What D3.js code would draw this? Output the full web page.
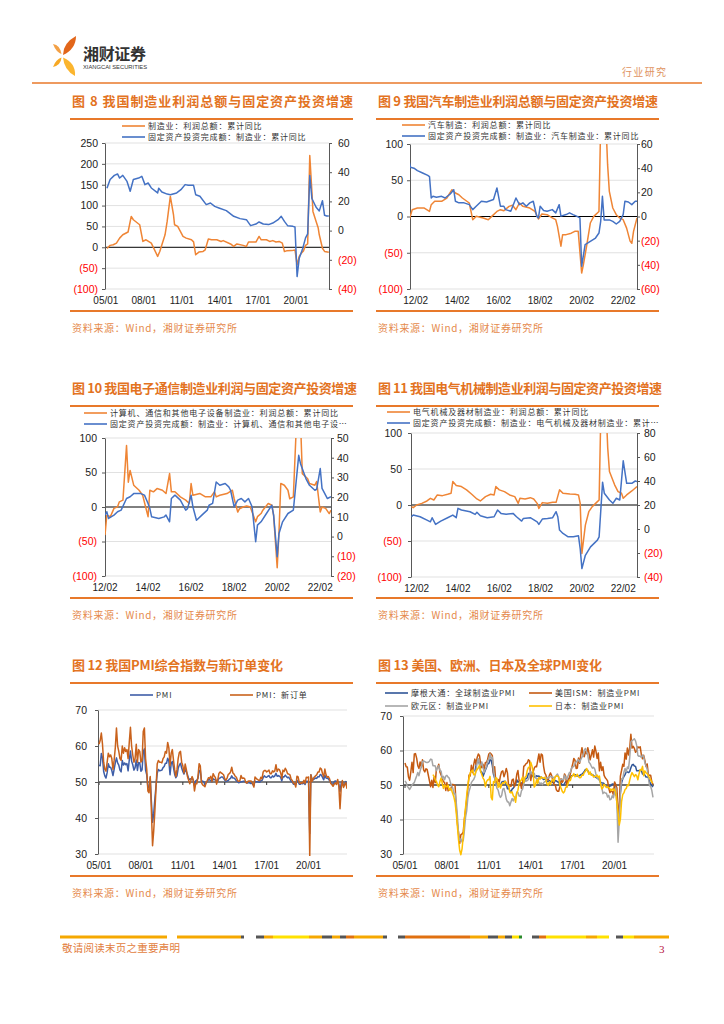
<!DOCTYPE html>
<html>
<head>
<meta charset="utf-8">
<script src="https://cdn.jsdelivr.net/npm/d3@7"></script>
<style>
  body { margin: 0; background: #fff; }
  svg { display: block; }
</style>
</head>
<body>
<script>
// ---------- data ----------

// fig 8: manufacturing profit (left) / manufacturing FAI (right), cumulative yoy %
const profitMfg = [["2005-02",-2.8],["2005-05",4.6],["2005-08",6],["2005-11",10],["2006-02",22],["2006-05",30],["2006-10",36.6],["2007-01",74],["2007-03",66],["2007-09",54],["2007-12",14],["2008-03",18],["2008-08",10],["2009-02",-21.8],["2009-04",-10],["2009-09",30],["2009-11",62],["2010-02",122],["2010-05",78],["2010-06",54],["2010-09",50],["2011-02",26],["2011-05",22],["2011-10",18],["2011-12",13],["2012-02",-18],["2012-05",-11.5],["2012-09",-10],["2012-11",-6],["2013-02",20],["2013-05",18],["2013-10",18],["2014-02",14],["2014-04",16],["2014-11",8],["2015-02",2],["2015-05",8],["2015-11",4.6],["2016-02",2],["2016-04",12.6],["2016-11",12.6],["2017-02",26],["2017-04",18],["2017-09",18],["2017-12",14],["2018-03",16],["2018-06",12.6],["2018-09",14],["2018-12",10],["2019-02",-10],["2019-04",-8.6],["2019-09",-8],["2019-12",-6.4],["2020-02",-42],["2020-04",-22],["2020-06",-14],["2020-08",-8.6],["2020-10",4.6],["2020-12",8],["2021-02",220],["2021-04",134],["2021-05",86],["2021-08",62],["2021-10",46],["2021-11",30],["2022-02",-2.4],["2022-04",-10],["2022-08",-12]];
const faiMfg = [["2005-02",29],["2005-05",35],["2005-09",37.8],["2005-12",38.8],["2006-02",36],["2006-05",37.8],["2006-09",33.7],["2006-12",27],["2007-03",35],["2007-08",36],["2007-11",37.2],["2008-02",31.5],["2008-05",32.6],["2008-08",29.2],["2009-02",25.8],["2009-03",29],["2009-06",26.4],["2009-11",25],["2010-02",24.6],["2010-08",25.8],["2010-12",28],["2011-04",31.5],["2011-07",31],["2011-12",31],["2012-02",24.6],["2012-06",23.5],["2012-12",17.8],["2013-04",18.9],["2013-08",16.6],["2013-12",15.5],["2014-07",13.7],["2015-02",9.8],["2015-08",8.2],["2016-02",7.5],["2016-06",3.4],["2016-11",4.5],["2017-02",5.9],["2017-06",4.5],["2017-11",4.1],["2018-03",5.2],["2018-08",7.5],["2018-11",9.8],["2019-02",6.3],["2019-05",3.4],["2019-10",2.9],["2019-12",2.5],["2020-02",-31.5],["2020-04",-19],["2020-07",-13],["2020-10",-5],["2020-12",-2.2],["2021-02",37.8],["2021-04",22],["2021-08",16],["2021-11",13.5],["2022-02",20.5],["2022-04",10.5],["2022-06",10],["2022-08",10]];

// fig 9: auto manufacturing
const profitAuto = [["2011-10",-6.7],["2011-12",9.4],["2012-03",11.7],["2012-07",11.7],["2012-10",7.1],["2012-11",16.3],["2013-01",21],["2013-05",21],["2013-08",25.5],["2013-11",37],["2014-01",32.4],["2014-03",30],["2014-05",25.5],["2014-09",18.6],["2014-11",-4.4],["2015-01",0.2],["2015-05",-2],["2015-08",-4.4],["2015-10",0.2],["2016-01",7],["2016-03",9.4],["2016-05",8],["2016-08",14],["2016-10",15.4],["2016-12",9.4],["2017-02",18.6],["2017-04",14],["2017-08",11.7],["2017-11",7],["2018-01",-3.4],["2018-03",3.5],["2018-06",2.5],["2018-09",-2],["2018-11",-4.4],["2018-12",-13.6],["2019-02",-41],["2019-03",-25],["2019-05",-25],["2019-08",-23],["2019-10",-20.5],["2019-12",-20.5],["2020-02",-78],["2020-03",-66.4],["2020-05",-38.9],["2020-07",-9],["2020-09",0.2],["2020-12",7],["2021-02",250],["2021-05",71.5],["2021-06",34.7],["2021-08",11.7],["2021-10",2.5],["2021-12",-2],["2022-02",-4.4],["2022-04",-16],["2022-06",-34],["2022-07",-37],["2022-08",-20.5],["2022-10",-2]];
const faiAuto = [["2011-10",47],["2011-11",40.7],["2012-01",40],["2012-03",38],["2012-06",36],["2012-09",34],["2012-10",33],["2012-11",15.3],["2012-12",16.7],["2013-02",16],["2013-05",16.7],["2013-07",15.3],["2013-10",18.6],["2013-12",22.2],["2014-01",12.6],["2014-03",11.3],["2014-06",11.3],["2014-09",9.8],["2014-11",5.7],["2015-01",8.5],["2015-04",12.6],["2015-07",12],["2015-11",14],["2016-01",23.6],["2016-03",8.5],["2016-05",8.5],["2016-06",5.7],["2016-09",4.4],["2016-12",15.3],["2017-02",9.8],["2017-04",11.3],["2017-06",8.5],["2017-08",11.3],["2017-10",12.6],["2017-12",0.3],["2018-01",-1.2],["2018-02",8.5],["2018-04",5],["2018-06",4.4],["2018-09",5.7],["2018-11",3],["2019-01",9.8],["2019-02",0.3],["2019-05",1.6],["2019-07",3],["2019-09",1.6],["2019-11",0.3],["2020-01",-1.2],["2020-02",-41.2],["2020-04",-23.3],["2020-07",-20.6],["2020-10",-17.8],["2020-12",-13.7],["2021-01",-4],["2021-02",16.7],["2021-03",-2.8],["2021-06",-2.8],["2021-08",-4],["2021-10",-6.2],["2021-12",-4],["2022-02",1.6],["2022-03",12.6],["2022-05",12],["2022-07",9.8],["2022-09",12.6],["2022-10",12.6]];

// fig 10: computer, communication & electronics
const profitElec = [["2012-02",-40.7],["2012-03",-12],["2012-05",-14],["2012-07",-2],["2012-09",0.2],["2012-10",7.5],["2012-12",10],["2013-02",89],["2013-03",36],["2013-04",53],["2013-06",31.6],["2013-09",24.3],["2013-11",17],["2014-02",-14],["2014-03",24.3],["2014-05",22],["2014-07",26.7],["2014-10",24.3],["2014-12",19.5],["2015-02",48.4],["2015-03",22],["2015-05",22],["2015-08",14.7],["2015-11",10],["2016-01",5],["2016-02",34],["2016-03",17],["2016-07",19.5],["2016-10",14.7],["2017-01",14.7],["2017-03",22],["2017-04",14.7],["2017-06",17],["2017-10",19.5],["2018-01",24.3],["2018-02",12],["2018-04",-7.3],["2018-05",-2.5],["2018-07",0],["2018-09",1.5],["2018-11",0],["2019-02",-21.5],["2019-03",-14],["2019-05",-9.5],["2019-06",-4.6],["2019-09",5],["2019-11",2.5],["2019-12",-12],["2020-02",-88],["2020-03",-36],["2020-04",34],["2020-06",31.6],["2020-08",24.3],["2020-09",12],["2020-11",14.7],["2021-02",200],["2021-04",48.4],["2021-07",41],["2021-08",34],["2021-11",31.6],["2021-12",37],["2022-02",-7.3],["2022-03",0],["2022-05",-2],["2022-07",-9.5],["2022-08",-4.6]];
const faiElec = [["2012-02",10.9],["2012-03",12.6],["2012-04",9.2],["2012-07",10.9],["2012-09",12.6],["2012-11",13.4],["2013-02",19.3],["2013-04",20.2],["2013-06",21.8],["2013-10",21.8],["2013-12",21],["2014-02",16.8],["2014-03",14.2],["2014-04",10],["2014-08",9.2],["2014-11",10],["2014-12",10.9],["2015-02",7.5],["2015-03",19.3],["2015-05",21],["2015-08",18.5],["2015-11",13.4],["2015-12",14.2],["2016-02",21],["2016-03",15.1],["2016-05",8.3],["2016-08",10.9],["2016-11",13.4],["2016-12",15.9],["2017-02",16.8],["2017-04",27.7],["2017-06",26],["2017-09",26.9],["2017-11",25.2],["2017-12",23.5],["2018-02",15.1],["2018-04",18.5],["2018-06",19.3],["2018-08",17.6],["2018-10",19.3],["2018-12",15.1],["2019-02",-2.6],["2019-03",5.8],["2019-05",7.5],["2019-08",11.7],["2019-11",15.9],["2019-12",10.9],["2020-02",-10.2],["2020-03",1.6],["2020-05",7.5],["2020-08",11.7],["2020-11",13.4],["2021-02",41.2],["2021-03",37],["2021-06",29.4],["2021-08",26],["2021-11",23.5],["2021-12",24],["2022-02",34.5],["2022-03",24.4],["2022-06",19.3],["2022-08",20.2]];

// fig 11: electrical machinery
const profitElecMach = [["2011-11",-2.3],["2011-12",-3.7],["2012-02",0],["2012-05",2.3],["2012-08",5.6],["2012-10",9.3],["2012-12",7],["2013-02",14],["2013-05",13],["2013-08",14.9],["2013-10",16.3],["2013-11",32.6],["2014-01",27],["2014-04",25.6],["2014-07",21],["2014-10",14.9],["2015-01",8.4],["2015-03",5.6],["2015-06",11.6],["2015-09",14.9],["2015-11",14],["2015-12",25.6],["2016-02",21],["2016-05",18.6],["2016-08",14],["2016-11",11.6],["2017-01",2.3],["2017-02",9.3],["2017-05",8.4],["2017-08",10.2],["2017-10",8.4],["2017-12",2.3],["2018-01",-4.7],["2018-03",3.3],["2018-06",2.3],["2018-09",3.7],["2018-11",3.7],["2019-01",21],["2019-03",16.3],["2019-07",15.3],["2019-10",14.9],["2019-12",14],["2020-01",2.3],["2020-02",-67.4],["2020-04",-28],["2020-06",-9.3],["2020-08",-2.3],["2020-11",4.7],["2020-12",7],["2021-02",250],["2021-05",79],["2021-06",46.5],["2021-09",28],["2021-11",18.6],["2022-01",16.3],["2022-02",9.3],["2022-04",14],["2022-07",19.5],["2022-10",25.6]];
const faiElecMach = [["2011-11",10.2],["2011-12",11.6],["2012-04",10.2],["2012-08",7.4],["2012-10",6],["2012-11",9.4],["2013-01",3.8],["2013-04",6.6],["2013-08",9.4],["2013-11",11.6],["2014-01",9.4],["2014-02",17.2],["2014-04",15.8],["2014-09",14.4],["2014-12",12.2],["2015-01",13.9],["2015-03",11],["2015-07",9.4],["2015-11",10.2],["2016-01",15.8],["2016-03",13],["2016-06",12.2],["2016-10",13],["2016-12",10.2],["2017-03",6.6],["2017-04",8.8],["2017-08",9.4],["2017-12",6],["2018-01",3.8],["2018-03",8.3],["2018-06",8.8],["2018-09",9.4],["2018-11",14.4],["2018-12",10.2],["2019-01",-0.9],["2019-03",-3.7],["2019-06",-6.5],["2019-09",-6.5],["2019-12",-5.7],["2020-01",-16.3],["2020-02",-33],["2020-04",-21.9],["2020-07",-14.9],["2020-11",-9.3],["2020-12",-6.5],["2021-02",39],["2021-03",29.8],["2021-06",24.2],["2021-08",21.4],["2021-10",25.6],["2021-12",24.2],["2022-02",56.8],["2022-04",38.1],["2022-07",38.1],["2022-09",40],["2022-10",39.5]];

// fig 12: China PMI and new orders, monthly from 2005-01
const pmiChina = [
  54.7,54.5,57.9,56.7,52.9,51.7,51.1,52.6,55.1,54.1,54.1,53.2,
  51.8,53.5,55.3,56.7,55.3,54.7,53.3,52.8,56.0,54.7,55.3,54.8,
  55.1,53.1,56.1,58.6,55.8,54.8,53.3,54.0,56.1,53.2,55.4,55.3,
  53.0,53.4,58.4,59.2,53.3,52.0,48.4,48.4,51.2,44.6,38.8,41.2,
  45.3,49.0,52.4,53.5,53.1,53.2,53.3,54.0,54.3,55.2,55.2,56.6,
  55.8,52.0,55.1,55.7,53.9,52.1,51.2,51.7,53.8,54.7,55.2,53.9,
  52.9,52.2,53.4,52.9,52.0,50.9,50.7,50.9,51.2,50.4,49.0,50.3,
  50.5,51.0,53.1,53.3,50.4,50.2,50.1,49.2,49.8,50.2,50.6,50.6,
  50.4,50.1,50.9,50.6,50.8,50.1,50.3,51.0,51.1,51.4,51.4,51.0,
  50.5,50.2,50.3,50.4,50.8,51.0,51.7,51.1,51.1,50.8,50.3,50.1,
  49.8,49.9,50.1,50.1,50.2,50.2,50.0,49.7,49.8,49.8,49.6,49.7,
  49.4,49.0,50.2,50.1,50.1,50.0,49.9,50.4,50.4,51.2,51.7,51.4,
  51.3,51.6,51.8,51.2,51.2,51.7,51.4,51.7,52.4,51.6,51.8,51.6,
  51.3,50.3,51.5,51.4,51.9,51.5,51.2,51.3,50.8,50.2,50.0,49.4,
  49.5,49.2,50.5,50.1,49.4,49.4,49.7,49.5,49.8,49.3,50.2,50.2,
  50.0,35.7,52.0,50.8,50.6,50.9,51.1,51.0,51.5,51.4,52.1,51.9,
  51.3,50.6,51.9,51.1,51.0,50.9,50.4,50.1,49.6,49.2,50.1,50.3,
  50.1,50.2,49.5,47.4,49.6,50.2,49.0,49.4,50.1,49.2];
const pmiNewOrders = [
  60.5,61.5,63.6,60.5,55.5,53.5,53.0,55.5,58.0,57.0,57.5,56.5,
  53.5,56.0,59.5,65.0,60.0,58.5,56.5,56.0,60.0,58.0,59.5,58.5,
  59.0,56.5,61.0,65.2,60.0,57.5,55.5,56.5,60.5,55.5,59.0,58.5,
  55.5,56.0,64.0,65.0,56.5,53.5,47.5,47.0,51.5,42.0,32.3,36.5,
  42.0,48.5,55.0,56.0,55.5,55.5,55.3,56.5,57.0,58.5,58.0,61.0,
  59.5,54.5,58.0,59.0,56.0,53.5,51.5,53.5,56.5,58.2,58.5,55.5,
  54.5,52.5,55.0,53.5,51.5,50.5,49.5,50.5,51.5,50.5,47.5,49.5,
  49.5,51.5,55.1,54.5,49.8,49.2,49.0,48.7,49.8,50.4,51.2,51.0,
  51.6,50.1,52.3,51.7,51.2,49.4,50.6,52.4,52.8,52.5,52.3,52.0,
  50.9,50.5,51.1,52.1,52.3,52.8,54.1,52.5,52.2,51.6,51.3,50.4,
  50.2,50.4,51.8,51.0,51.1,51.0,49.9,49.7,50.2,50.3,50.3,50.2,
  49.5,48.6,51.4,51.0,50.7,50.5,50.4,51.3,50.9,52.8,53.2,53.2,
  52.8,53.0,53.3,52.3,52.3,53.1,52.8,53.1,54.8,52.9,53.6,53.4,
  52.6,51.0,53.3,52.9,53.8,53.2,52.3,52.2,52.0,50.8,50.4,49.7,
  49.6,48.6,51.6,51.4,49.8,49.6,49.8,49.7,50.5,49.6,51.3,51.2,
  51.4,29.3,52.0,50.2,50.9,51.4,51.7,52.0,52.8,52.8,53.9,53.6,
  52.3,51.5,53.6,52.0,51.3,51.5,50.9,49.6,49.3,48.8,49.4,49.7,
  49.3,50.7,48.8,42.6,48.2,50.4,48.5,49.2,49.8,48.1];

// fig 13: manufacturing PMI, monthly
const ismPmi = [ // from 2005-01
  56.4,55.3,55.2,52.3,51.4,53.8,56.6,53.6,59.0,59.1,57.8,55.6,
  54.8,56.7,55.2,57.3,54.4,53.8,54.7,54.5,52.9,51.2,49.5,51.4,
  49.3,52.3,50.7,54.7,55.0,56.0,53.8,52.9,52.0,50.9,50.8,48.4,
  50.7,48.3,48.6,48.6,49.6,50.2,50.0,49.9,43.5,38.9,36.2,33.1,
  35.6,35.8,36.3,40.1,42.8,45.8,49.1,52.9,52.6,55.7,53.6,55.9,
  57.5,56.0,58.0,59.0,58.5,56.0,55.0,56.0,54.5,56.5,56.5,57.5,
  59.0,59.3,59.0,58.5,53.5,55.3,50.9,50.6,51.6,50.8,52.7,53.9,
  54.1,52.4,53.4,54.8,53.5,49.7,49.8,49.6,51.5,51.7,49.5,50.7,
  53.1,54.2,51.3,50.7,49.0,50.9,55.4,55.7,56.2,56.4,57.3,57.0,
  51.3,53.2,53.7,54.9,55.4,55.3,57.1,59.0,56.6,59.0,58.7,55.5,
  53.5,52.9,51.5,51.5,52.8,53.5,52.7,51.1,50.2,50.1,48.6,48.2,
  48.2,49.5,51.8,50.8,51.3,53.2,52.6,49.4,51.5,51.9,53.2,54.7,
  56.0,57.7,57.2,54.8,54.9,57.8,56.3,58.8,60.8,58.7,58.2,59.7,
  59.1,60.8,59.3,57.3,58.7,60.2,58.1,61.3,59.8,57.7,59.3,54.1,
  56.6,54.2,55.3,52.8,52.1,51.7,51.2,49.1,47.8,48.3,48.1,47.2,
  50.9,50.1,49.1,41.5,43.1,52.6,54.2,56.0,55.4,59.3,57.5,60.7,
  58.7,60.8,64.7,60.7,61.2,60.6,59.5,59.9,61.1,60.8,61.1,58.8,
  57.6,58.6,57.1,55.4,56.1,53.0,52.8,52.8,50.9,50.2];
const euroPmi = [ // from 2005-01
  51.2,50.7,49.6,49.2,48.7,49.3,50.0,50.4,50.7,51.7,52.6,53.6,
  52.7,54.1,55.2,56.7,57.0,56.8,56.6,56.5,56.6,56.9,57.5,57.4,
  55.6,55.6,55.5,54.1,55.0,55.6,54.2,54.0,51.9,52.5,51.5,52.6,
  52.8,52.3,52.0,50.7,49.8,49.2,47.4,47.6,45.0,41.1,35.6,33.9,
  34.4,33.5,33.9,36.8,40.7,42.6,46.3,48.2,49.3,50.7,51.2,51.6,
  52.4,54.2,56.6,57.6,55.8,55.6,56.7,55.1,53.7,54.6,55.3,57.1,
  57.3,59.0,57.5,58.0,54.6,52.0,50.4,49.0,48.5,47.1,46.4,46.9,
  48.8,49.0,47.7,45.9,45.1,45.1,44.0,45.1,46.1,45.4,46.2,46.1,
  47.9,47.9,46.8,46.7,48.3,48.8,50.3,51.4,51.1,51.3,51.6,52.7,
  54.0,53.2,53.0,53.4,52.2,51.8,51.8,50.7,50.3,50.6,50.1,50.6,
  51.0,51.0,52.2,52.0,52.2,52.5,52.4,52.3,52.0,52.3,52.8,53.2,
  52.3,51.2,51.6,51.7,51.5,52.8,52.0,51.7,52.6,53.5,53.7,54.9,
  55.2,55.4,56.2,56.7,57.0,57.4,56.6,57.4,58.1,58.5,60.1,60.6,
  59.6,58.6,56.6,56.2,55.5,54.9,55.1,54.6,53.2,52.0,51.8,51.4,
  50.5,49.3,47.5,47.9,47.7,47.6,46.5,47.0,45.7,45.9,46.9,46.3,
  47.9,49.2,44.5,33.4,39.4,47.4,51.8,51.7,53.7,54.8,53.8,55.2,
  54.8,57.9,62.5,62.9,63.1,63.4,62.8,61.4,58.6,58.3,58.4,58.0,
  58.7,58.2,56.5,55.5,54.6,52.1,49.8,49.6,48.4,46.4];
const japanPmi = [ // from 2007-01
  53.0,52.5,51.5,51.0,50.0,49.5,51.0,52.0,50.5,49.0,50.0,49.5,
  49.5,50.0,48.5,49.0,48.5,47.5,46.5,45.0,42.0,38.0,34.0,31.0,
  29.8,31.5,35.0,40.0,43.5,47.0,50.0,52.0,53.5,54.0,54.3,53.0,
  53.0,54.0,54.5,55.0,55.7,54.0,53.0,52.0,51.5,49.5,51.0,51.5,
  51.5,52.5,46.4,45.7,51.0,50.7,52.1,51.9,49.3,50.6,49.1,50.2,
  50.7,50.5,51.1,50.7,50.0,49.9,47.9,47.7,48.0,46.9,46.5,45.0,
  47.7,48.5,50.4,51.1,51.5,52.3,50.7,52.2,52.5,54.2,55.1,55.2,
  56.6,55.5,53.9,49.4,49.9,51.5,50.5,52.2,51.7,52.4,52.0,52.0,
  52.2,51.6,50.3,49.9,50.9,50.1,51.2,51.7,51.0,52.4,52.6,52.6,
  52.3,50.1,49.1,48.2,47.7,48.1,49.3,49.5,50.4,51.4,51.3,52.4,
  52.7,53.3,52.4,52.7,53.1,52.4,52.1,52.2,52.9,52.8,53.6,54.0,
  54.8,54.1,53.1,53.8,52.8,53.0,52.3,52.5,52.5,52.9,52.2,52.6,
  50.3,48.9,49.2,50.2,49.8,49.3,49.4,49.3,48.9,48.4,48.9,48.4,
  48.8,47.8,44.8,41.9,38.4,40.1,45.2,47.2,47.7,48.7,49.0,50.0,
  49.8,51.4,52.7,53.6,53.0,52.4,53.0,52.7,51.5,53.2,54.5,54.3,
  55.4,52.7,54.1,53.5,53.3,52.7,52.1,51.5,50.8,50.7];
const globalPmi = [ // from 2010-01
  53.9,55.6,57.1,57.0,56.1,53.8,53.8,52.5,53.4,54.3,55.1,56.1,
  56.2,57.4,57.2,55.6,53.1,52.0,50.6,49.9,49.9,49.8,49.7,50.8,
  51.0,51.0,51.1,50.2,48.9,49.1,48.4,48.1,48.8,49.1,49.7,50.2,
  51.5,50.8,51.1,50.3,50.6,50.6,50.8,51.7,51.8,52.1,53.3,53.3,
  52.9,53.2,52.4,52.4,52.2,52.7,52.5,52.6,52.2,52.3,51.9,51.6,
  51.7,51.9,51.0,51.0,51.3,51.0,51.0,50.7,50.6,51.3,51.2,50.9,
  50.9,50.0,50.5,50.1,50.0,50.4,51.0,50.8,51.0,52.0,52.1,52.7,
  52.7,52.9,53.0,52.7,52.6,52.6,52.7,53.0,53.1,53.5,53.9,54.5,
  54.4,54.2,53.3,53.5,53.1,53.0,52.7,52.5,52.2,52.0,51.8,51.5,
  50.8,50.6,50.6,50.4,49.8,49.4,49.3,49.5,49.7,49.8,50.3,50.1,
  50.4,47.1,47.6,39.6,42.4,47.8,50.6,51.8,52.4,53.0,53.8,53.8,
  53.6,53.9,55.0,55.8,56.0,55.5,55.4,54.1,54.1,54.2,54.2,54.2,
  53.2,53.6,52.9,52.3,52.3,52.2,51.1,50.3,49.8,49.4];

// axis ticks
const ticksY8L = [-100, -50, 0, 50, 100, 150, 200, 250];
const ticksY8R = [-40, -20, 0, 20, 40, 60];
const ticksY9L = [-100, -50, 0, 50, 100];
const ticksY9R = [-60, -40, -20, 0, 20, 40, 60];
const ticksY10R = [-20, -10, 0, 10, 20, 30, 40, 50];
const ticksY11R = [-40, -20, 0, 20, 40, 60, 80];
const ticksPmi = [30, 40, 50, 60, 70];
const xLabels05 = ["05/01", "08/01", "11/01", "14/01", "17/01", "20/01"];
const xLabels12 = ["12/02", "14/02", "16/02", "18/02", "20/02", "22/02"];

// ---------- helpers ----------
const ym = s => { const p = s.split('-').map(Number); return p[0] + (p[1] - 1) / 12; };
const labelYear = s => { const p = s.split('/').map(Number); return 2000 + p[0] + (p[1] - 1) / 12; };
const pairs = arr => arr.map(d => [ym(d[0]), d[1]]);
const monthly = (start, vals) => vals.map((v, i) => [ym(start) + i / 12, v]);
const fmtNeg = d => d < 0 ? `(${-d})` : `${d}`;

const ORANGE = '#e8792a';
const CJK = '"Noto Sans CJK SC", "Noto Sans", sans-serif';
const LATIN = '"Liberation Sans", Arial, sans-serif';
const C_OR = '#ef8535', C_BL = '#4472c4';

const svg = d3.select('body').append('svg')
  .attr('width', 724)
  .attr('height', 1024);

// ---------- page header ----------
const logo = svg.append('g');
logo.append('path').attr('d', 'M63,55 Q63,43 76,36 Q76,49 63,55Z').attr('fill', '#e2661a');
logo.append('path').attr('d', 'M61.5,54 Q56,52 53,44 Q60,45 61.5,54Z').attr('fill', '#f3a045');
logo.append('path').attr('d', 'M61.5,57.5 Q56,59 53,67 Q61,65 61.5,57.5Z').attr('fill', '#f7a823');
logo.append('path').attr('d', 'M63,57.5 Q64,70 75,76 Q76,63 63,57.5Z').attr('fill', '#fbb52e');
svg.append('text').attr('x', 83).attr('y', 60).text('湘财证券')
  .attr('font-family', CJK).attr('font-size', 16).attr('font-weight', 'bold')
  .attr('fill', '#333').attr('textLength', 63);
svg.append('text').attr('x', 83).attr('y', 68.5).text('XIANGCAI SECURITIES')
  .attr('font-family', LATIN).attr('font-size', 6).attr('fill', '#333')
  .attr('textLength', 64).attr('lengthAdjust', 'spacingAndGlyphs');
svg.append('text').attr('x', 622).attr('y', 76).text('行业研究')
  .attr('font-family', CJK).attr('font-size', 10).attr('fill', '#e0935e')
  .attr('textLength', 44);
svg.append('line').attr('x1', 32).attr('x2', 702).attr('y1', 83).attr('y2', 83)
  .attr('stroke', ORANGE).attr('stroke-width', 1.5);

// ---------- panel furniture ----------
function panelFrame(p) {
  svg.append('text').attr('x', p.tx0).attr('y', p.ty).text(p.title)
    .attr('font-family', CJK).attr('font-size', 13).attr('font-weight', 'bold')
    .attr('fill', '#e3731f').attr('textLength', p.tx1 - p.tx0).attr('lengthAdjust', 'spacing');
  svg.append('line').attr('x1', p.lx0).attr('x2', p.lx1).attr('y1', p.lineY).attr('y2', p.lineY)
    .attr('stroke', ORANGE).attr('stroke-width', 2);
  svg.append('line').attr('x1', p.lx0).attr('x2', p.lx1).attr('y1', p.botY).attr('y2', p.botY)
    .attr('stroke', ORANGE).attr('stroke-width', 2);
  svg.append('text').attr('x', p.lx0 + 2).attr('y', p.botY + 21).text('资料来源：Wind，湘财证券研究所')
    .attr('font-family', CJK).attr('font-size', 10).attr('fill', '#e58a4c')
    .attr('textLength', 165).attr('lengthAdjust', 'spacing');
}

function legend(items) {
  items.forEach(it => {
    svg.append('line').attr('x1', it.x).attr('x2', it.x + 23).attr('y1', it.y).attr('y2', it.y)
      .attr('stroke', it.color).attr('stroke-width', 1.6);
    svg.append('text').attr('x', it.x + 26).attr('y', it.y + 3).text(it.name)
      .attr('font-family', CJK).attr('font-size', 8).attr('letter-spacing', 0.8)
      .attr('fill', '#333');
  });
}

let clipId = 0;
function plotLines(g, series, x, clip) {
  const id = 'clip' + (clipId++);
  svg.append('clipPath').attr('id', id).append('rect')
    .attr('x', clip[0]).attr('y', clip[1]).attr('width', clip[2]).attr('height', clip[3]);
  const lg = g.append('g').attr('clip-path', `url(#${id})`);
  series.forEach(s => {
    const line = d3.line().x(d => x(d[0])).y(d => s.y(d[1]));
    lg.append('path').datum(s.data).attr('d', line)
      .attr('fill', 'none').attr('stroke', s.color).attr('stroke-width', 1.5)
      .attr('stroke-linejoin', 'round');
  });
}

function styleAxis(ax, negRed) {
  ax.select('.domain').attr('stroke', '#595959');
  ax.selectAll('.tick line').attr('stroke', '#595959');
  ax.selectAll('text').attr('font-family', LATIN).attr('font-size', 10.5)
    .attr('fill', d => (negRed && d < 0) ? '#ff0000' : '#222');
}

// ---------- dual-axis charts ----------
function drawDual(c) {
  panelFrame(c);
  const g = svg.append('g');
  const x = d3.scaleLinear().domain(c.xDomain).range([c.left, c.right]);
  const yL = d3.scaleLinear().domain(c.lDomain).range([c.bottom, c.top]);
  const yR = d3.scaleLinear().domain(c.rDomain).range([c.bottom, c.top]);

  g.selectAll('.grid').data(c.lTicks.filter(d => d !== 0)).enter().append('line')
    .attr('x1', c.left).attr('x2', c.right)
    .attr('y1', d => yL(d)).attr('y2', d => yL(d))
    .attr('stroke', '#d9d9d9').attr('stroke-width', 0.8);
  g.append('line').attr('x1', c.left).attr('x2', c.right)
    .attr('y1', yL(0)).attr('y2', yL(0)).attr('stroke', '#000').attr('stroke-width', 1);

  const axL = g.append('g').attr('transform', `translate(${c.left},0)`)
    .call(d3.axisLeft(yL).tickValues(c.lTicks).tickSize(3).tickSizeOuter(0).tickPadding(c.lPad).tickFormat(fmtNeg));
  styleAxis(axL, true);
  const axR = g.append('g').attr('transform', `translate(${c.right},0)`)
    .call(d3.axisRight(yR).tickValues(c.rTicks).tickSize(3).tickSizeOuter(0).tickPadding(c.rPad).tickFormat(fmtNeg));
  styleAxis(axR, true);

  g.selectAll('.xl').data(c.xLabels).enter().append('text')
    .attr('x', d => x(labelYear(d))).attr('y', c.bottom + 14.5)
    .attr('text-anchor', 'middle').text(d => d)
    .attr('font-family', LATIN).attr('font-size', 10).attr('fill', '#222');

  plotLines(g, [
    { data: pairs(c.left_s), y: yL, color: C_OR },
    { data: pairs(c.right_s), y: yR, color: C_BL }
  ], x, [c.left, c.top, c.right - c.left, c.bottom - c.top]);

  legend([
    { x: c.legX, y: c.legY[0], color: C_OR, name: c.names[0] },
    { x: c.legX, y: c.legY[1], color: C_BL, name: c.names[1] }
  ]);
}

drawDual({
  title: '图 8 我国制造业利润总额与固定资产投资增速', tx0: 72, tx1: 353, ty: 105.5,
  lx0: 70, lx1: 353, lineY: 119, botY: 311,
  left: 105, right: 329, top: 143, bottom: 289,
  xDomain: [2004.93, 2022.6], lDomain: [-100, 250], rDomain: [-40, 60],
  lTicks: ticksY8L, rTicks: ticksY8R, lPad: 4, rPad: 6, xLabels: xLabels05,
  left_s: profitMfg, right_s: faiMfg,
  legX: 122, legY: [126, 137],
  names: ['制造业：利润总额：累计同比', '固定资产投资完成额：制造业：累计同比']
});

drawDual({
  title: '图 9 我国汽车制造业利润总额与固定资产投资增速', tx0: 378, tx1: 658, ty: 105.5,
  lx0: 376, lx1: 659, lineY: 119, botY: 311,
  left: 410, right: 637, top: 144, bottom: 289,
  xDomain: [2011.81, 2022.75], lDomain: [-100, 100], rDomain: [-60, 60],
  lTicks: ticksY9L, rTicks: ticksY9R, lPad: 4, rPad: 1, xLabels: xLabels12,
  left_s: profitAuto, right_s: faiAuto,
  legX: 402, legY: [125, 136],
  names: ['汽车制造：利润总额：累计同比', '固定资产投资完成额：制造业：汽车制造业：累计同比']
});

drawDual({
  title: '图 10 我国电子通信制造业利润与固定资产投资增速', tx0: 72, tx1: 357, ty: 392.5,
  lx0: 70, lx1: 353, lineY: 406, botY: 598,
  left: 105, right: 331, top: 438, bottom: 576,
  xDomain: [2012.083, 2022.583], lDomain: [-100, 100], rDomain: [-20, 50],
  lTicks: ticksY9L, rTicks: ticksY10R, lPad: 5, rPad: 3, xLabels: xLabels12,
  left_s: profitElec, right_s: faiElec,
  legX: 84, legY: [413, 424],
  names: ['计算机、通信和其他电子设备制造业：利润总额：累计同比', '固定资产投资完成额：制造业：计算机、通信和其他电子设…']
});

drawDual({
  title: '图 11 我国电气机械制造业利润与固定资产投资增速', tx0: 378, tx1: 662, ty: 392.5,
  lx0: 376, lx1: 659, lineY: 406, botY: 598,
  left: 411, right: 637, top: 433, bottom: 577,
  xDomain: [2011.81, 2022.75], lDomain: [-100, 100], rDomain: [-40, 80],
  lTicks: ticksY9L, rTicks: ticksY11R, lPad: 6, rPad: 4, xLabels: xLabels12,
  left_s: profitElecMach, right_s: faiElecMach,
  legX: 387, legY: [412, 423],
  names: ['电气机械及器材制造业：利润总额：累计同比', '固定资产投资完成额：制造业：电气机械及器材制造业：累计…']
});

// ---------- PMI charts ----------
function drawPmi(c) {
  panelFrame(c);
  const g = svg.append('g');
  const x = d3.scaleLinear().domain([2005, 2022.75]).range(c.xRange);
  const y = d3.scaleLinear().domain([30, 70]).range([c.bottom, c.top]);

  g.selectAll('.grid').data(ticksPmi.filter(d => d !== 50)).enter().append('line')
    .attr('x1', c.left).attr('x2', c.right)
    .attr('y1', d => y(d)).attr('y2', d => y(d))
    .attr('stroke', '#d9d9d9').attr('stroke-width', 0.8);
  g.append('line').attr('x1', c.left).attr('x2', c.right)
    .attr('y1', y(50)).attr('y2', y(50)).attr('stroke', c.midColor).attr('stroke-width', c.midWidth);
  g.selectAll('.xt').data(xLabels05).enter().append('line')
    .attr('x1', d => x(labelYear(d))).attr('x2', d => x(labelYear(d)))
    .attr('y1', y(50)).attr('y2', y(50) + 3).attr('stroke', '#333');

  const ax = g.append('g').attr('transform', `translate(${c.left},0)`)
    .call(d3.axisLeft(y).tickValues(ticksPmi).tickSize(3).tickSizeOuter(0).tickPadding(8));
  styleAxis(ax, false);

  g.selectAll('.xl').data(xLabels05).enter().append('text')
    .attr('x', d => x(labelYear(d))).attr('y', c.bottom + 14.5)
    .attr('text-anchor', 'middle').text(d => d)
    .attr('font-family', LATIN).attr('font-size', 10).attr('fill', '#222');

  plotLines(g, c.series.map(s => ({ data: s.data, y: y, color: s.color })),
    x, [c.left, c.top - 2, c.right - c.left, c.bottom - c.top + 4]);
  legend(c.series.map(s => ({ x: s.lx, y: s.ly, color: s.color, name: s.name })));
}

drawPmi({
  title: '图 12 我国PMI综合指数与新订单变化', tx0: 72, tx1: 283, ty: 669.5,
  lx0: 70, lx1: 353, lineY: 683, botY: 876,
  left: 98, right: 347, top: 710, bottom: 854, xRange: [99, 347],
  midColor: '#000', midWidth: 1,
  series: [
    { data: monthly('2005-01', pmiChina), color: '#3e5ea8', name: 'PMI', lx: 130, ly: 695 },
    { data: monthly('2005-01', pmiNewOrders), color: '#c9621c', name: 'PMI：新订单', lx: 230, ly: 695 }
  ]
});

drawPmi({
  title: '图 13 美国、欧洲、日本及全球PMI变化', tx0: 378, tx1: 602, ty: 669.5,
  lx0: 376, lx1: 659, lineY: 683, botY: 876,
  left: 403, right: 654, top: 716, bottom: 854, xRange: [405, 653],
  midColor: '#404040', midWidth: 1.5,
  series: [
    { data: monthly('2010-01', globalPmi), color: '#2f5597', name: '摩根大通：全球制造业PMI', lx: 385, ly: 693 },
    { data: monthly('2005-01', ismPmi), color: '#c55a11', name: '美国ISM：制造业PMI', lx: 529, ly: 693 },
    { data: monthly('2005-01', euroPmi), color: '#a5a5a5', name: '欧元区：制造业PMI', lx: 385, ly: 706 },
    { data: monthly('2007-01', japanPmi), color: '#ffc000', name: '日本：制造业PMI', lx: 529, ly: 706 }
  ]
});

// ---------- page footer ----------
const footerBars = [
  [60,167,'#f5a800'],[177,241,'#f5a800'],[241,244,'#555'],
  [256,264,'#555'],[264,273,'#f5a800'],[273,309,'#ffe100'],[309,322,'#f5a800'],[322,332,'#555'],[332,340,'#f5a800'],[340,346,'#555'],[346,354,'#e07010'],[354,383,'#f5a800'],[383,387,'#555'],
  [398,405,'#555'],[405,470,'#e07010'],[470,488,'#f5a800'],[488,498,'#555'],[498,505,'#f5a800'],[505,512,'#555'],[512,519,'#ffe100'],[519,522,'#2a8a2a'],
  [532,539,'#555'],[539,546,'#e07010'],[546,586,'#ffe100'],[586,597,'#f5a800'],[597,609,'#ffe100'],
  [616,623,'#555'],[623,634,'#ffe100'],[634,669,'#f5a800']
];
svg.selectAll('.fbar').data(footerBars).enter().append('rect')
  .attr('x', d => d[0]).attr('width', d => d[1] - d[0])
  .attr('y', 935.5).attr('height', 3)
  .attr('fill', d => d[2]);
svg.append('text').attr('x', 62).attr('y', 952).text('敬请阅读末页之重要声明')
  .attr('font-family', CJK).attr('font-size', 10.5).attr('fill', '#e27d3d')
  .attr('textLength', 118);
svg.append('text').attr('x', 659).attr('y', 953).text('3')
  .attr('font-family', '"Liberation Serif", serif').attr('font-size', 11).attr('fill', '#b8123f');
</script>
</body>
</html>
